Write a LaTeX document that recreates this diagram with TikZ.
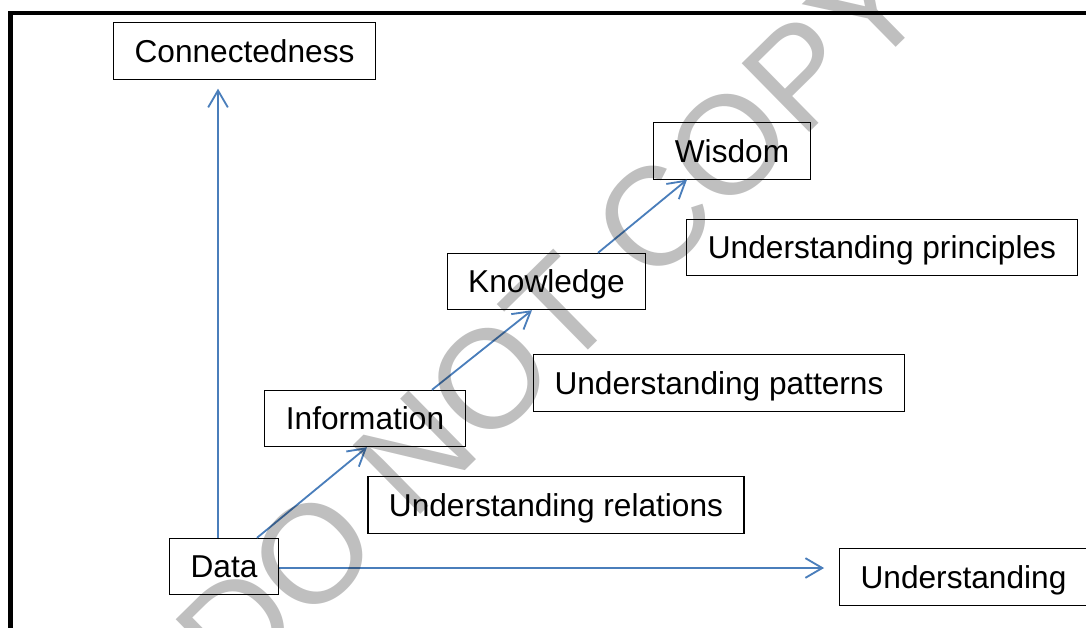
\documentclass[tikz,border=0pt]{standalone}
\usepackage{fontspec}
\setmainfont{Liberation Sans}
\usepackage{tikz}
\usetikzlibrary{arrows.meta,calc}
\definecolor{flowblue}{RGB}{74,126,187}

\begin{document}
\begin{tikzpicture}[x=0.025cm,y=-0.025cm,
box/.style={draw=black,line width=0.8pt,inner xsep=14.9pt,minimum height=40pt,text height=16pt,text depth=0pt,font=\fontsize{22.5pt}{27pt}\selectfont},
flow/.style={draw=flowblue,line width=1.3pt,-{Straight Barb[length=12pt,width=14pt]}}]
\useasboundingbox (0,0) rectangle (1086,627);
\clip (0,0) rectangle (1086,627);
\draw[line width=2.85pt] (10.5,640) -- (10.5,12.5) -- (1100,12.5);
\node[box] (Connectedness) at (244.5,51) {Connectedness};
\node[box] (Wisdom) at (732,151) {Wisdom};
\node[box] (Principles) at (882,247.5) {Understanding principles};
\node[box] (Knowledge) at (546.5,281.5) {Knowledge};
\node[box] (Patterns) at (719,383) {Understanding patterns};
\node[box] (Information) at (365,418.5) {Information};
\node[box] (Relations) at (556,505) {Understanding relations};
\node[box] (Data) at (224,566.5) {Data};
\node[box] (Understanding) at (963.5,577) {Understanding};
\draw[flow] ($(Data.north)+(-6,0)$) -- ($(Data.north |- Connectedness.south)+(-6,9)$);
\draw[flow] ($(Data.east)+(0,1.5)$) -- ($(Data.east -| Understanding.west)+(-15,1.5)$);
\draw[flow] ($(Data.north)+(33,0)$) -- ($(Information.south)+(2,0)$);
\draw[flow] ($(Information.north)+(67,0)$) -- ($(Knowledge.south)+(-14.5,0)$);
\draw[flow] ($(Knowledge.north)+(51.5,0)$) -- ($(Wisdom.south)+(-45,0)$);
\node[rotate=44.5,opacity=0.25,text=black,inner sep=0pt,font=\fontsize{99.6pt}{100pt}\selectfont] (stamp) at (551,319) {DO NOT COPY};
\end{tikzpicture}
\end{document}
